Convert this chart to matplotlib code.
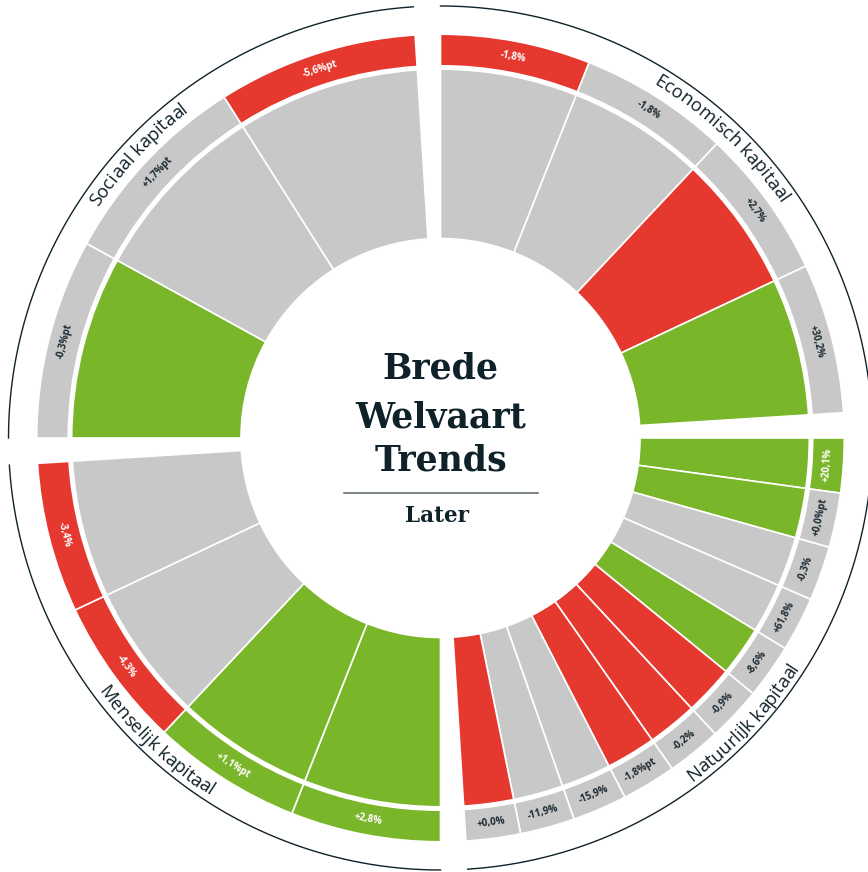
import numpy as np
import matplotlib
matplotlib.use('Agg')
import matplotlib.pyplot as plt
from matplotlib.lines import Line2D
from matplotlib.textpath import TextPath
from matplotlib.font_manager import FontProperties

# Kleuren
ROOD = '#e5382f'
GROEN = '#7ab62a'
GRIJS = '#c8c8c8'
DONKER = '#0f2229'
kleur = {'r': ROOD, 'g': GROEN, 'x': GRIJS}

# Data per kapitaal (volgorde met de klok mee)
kapitalen = ['Economisch kapitaal', 'Natuurlijk kapitaal', 'Menselijk kapitaal', 'Sociaal kapitaal']

eco_binnen = ['x', 'x', 'r', 'g']
eco_buiten = ['r', 'x', 'x', 'x']
eco_labels = ['-1,8%', '-1,8%', '+2,7%', '+30,2%']

nat_binnen = ['g', 'g', 'x', 'x', 'g', 'r', 'r', 'r', 'x', 'x', 'r']
nat_buiten = ['g', 'x', 'x', 'x', 'x', 'x', 'x', 'x', 'x', 'x', 'x']
nat_labels = ['+20,1%', '+0,0%pt', '-0,3%', '+61,8%', '-8,6%', '-0,9%',
              '-0,2%', '-1,8%pt', '-15,9%', '-11,9%', '+0,0%']

men_binnen = ['g', 'g', 'x', 'x']
men_buiten = ['g', 'g', 'r', 'r']
men_labels = ['+2,8%', '+1,1%pt', '-4,3%', '-3,4%']

soc_binnen = ['g', 'x', 'x']
soc_buiten = ['x', 'x', 'r']
soc_labels = ['-0,3%pt', '+1,7%pt', '-5,6%pt']

binnen = [eco_binnen, nat_binnen, men_binnen, soc_binnen]
buiten = [eco_buiten, nat_buiten, men_buiten, soc_buiten]
labels = [eco_labels, nat_labels, men_labels, soc_labels]

# Geometrie (pixels, dpi 100)
SPAN = 86.4
R_IN, R_MID = 199.5, 368.8
R_RING0, R_RING1 = 372.2, 403.8
R_LIJN = 432

W, H = 868, 872
cx, cy = 440.5, 434.0   # middelpunt, vanaf onderkant
RMAX = 440

fig = plt.figure(figsize=(W / 100, H / 100), dpi=100)
ax = fig.add_axes([(cx - RMAX) / W, (cy - RMAX) / H, 2 * RMAX / W, 2 * RMAX / H],
                  projection='polar')
ax.set_theta_zero_location('N')
ax.set_theta_direction(-1)
ax.set_ylim(0, RMAX)
ax.axis('off')

fp_kop = FontProperties(family='Open Sans', size=13.3)
fp_lbl = FontProperties(family='Open Sans', weight='bold', size=7)


def adv(s, fp):
    if not s:
        return 0.0
    ref = TextPath((0, 0), 'l', prop=fp).get_extents().x1
    return TextPath((0, 0), s + 'l', prop=fp).get_extents().x1 - ref


def kromme_tekst(tekst, th_c, r, boven):
    L = adv(tekst, fp_kop)
    for i, ch in enumerate(tekst):
        if ch == ' ':
            continue
        a0 = adv(tekst[:i], fp_kop)
        a1 = adv(tekst[:i + 1], fp_kop)
        off = ((a0 + a1) / 2 - L / 2) * 100 / 72
        d = np.degrees(off / r)
        th = th_c + d if boven else th_c - d
        rot = -th if boven else 180 - th
        ax.text(np.radians(th), r, ch, rotation=rot, rotation_mode='anchor',
                ha='center', va='baseline', fontproperties=fp_kop, color=DONKER)


for q in range(4):
    start = q * 90
    n = len(binnen[q])
    w = SPAN / n
    th = np.array([start + (i + 0.5) * w for i in range(n)])
    ax.bar(np.radians(th), R_MID - R_IN, width=np.radians(w), bottom=R_IN,
           color=[kleur[c] for c in binnen[q]], edgecolor='white', linewidth=1.2)
    ax.bar(np.radians(th), R_RING1 - R_RING0, width=np.radians(w), bottom=R_RING0,
           color=[kleur[c] for c in buiten[q]], edgecolor='white', linewidth=1.2)

    # labels in de ring
    for t, lab, c in zip(th, labels[q], buiten[q]):
        boven = np.cos(np.radians(t)) > 0
        rot = -t if boven else 180 - t
        ax.text(np.radians(t), (R_RING0 + R_RING1) / 2, lab, rotation=rot,
                rotation_mode='anchor', ha='center', va='center',
                fontproperties=fp_lbl, color='white' if c != 'x' else '#1d2b33')

    # buitenste lijn
    tt = np.radians(np.linspace(start, start + SPAN, 200))
    ax.plot(tt, np.full_like(tt, R_LIJN), color=DONKER, lw=1.0)

    # kopje langs de boog
    th_c = start + SPAN / 2
    boven = np.cos(np.radians(th_c)) > 0
    kromme_tekst(kapitalen[q], th_c, 413 if boven else 426, boven)

# titel in het midden
tx = 440.5 / W
for regel, yb in zip(['Brede', 'Welvaart', 'Trends'], [378, 427, 470]):
    fig.text(tx, 1 - yb / H, regel, ha='center', va='baseline',
             family='DejaVu Serif', weight='bold', size=25, color=DONKER)
fig.add_artist(Line2D([344 / W, 538 / W], [1 - 492.5 / H] * 2,
                      transform=fig.transFigure, color='#56646a', lw=1.1))
fig.text(437 / W, 1 - 522 / H, 'Later', ha='center', va='baseline',
         family='DejaVu Serif', weight='bold', size=15.5, color=DONKER)

fig.savefig('out.png', dpi=100)
